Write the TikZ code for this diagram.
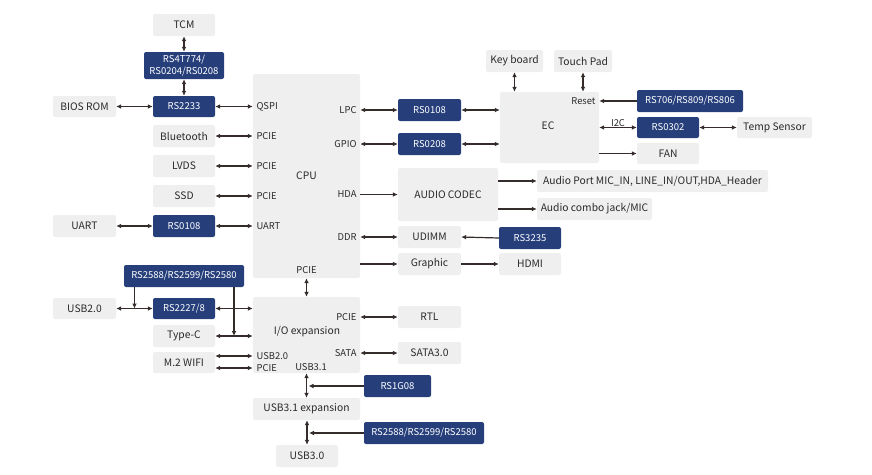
\documentclass[tikz,border=0pt]{standalone}
\usepackage{fontspec}
\setmainfont{Noto Sans CJK SC}
\usetikzlibrary{arrows.meta,calc}

\definecolor{boxgray}{HTML}{EFEFEF}
\definecolor{boxblue}{HTML}{263F7B}
\definecolor{wirecol}{HTML}{332C2A}
\definecolor{textcol}{HTML}{2A2A2A}

\tikzset{
  boxsize/.style 2 args={minimum width=#1pt, minimum height=#2pt},
  graybox/.style={fill=boxgray, rounded corners=2pt, inner sep=0pt, align=center,
    text=textcol, font=\fontsize{10.3}{12.5}\selectfont},
  bluebox/.style={fill=boxblue, rounded corners=2pt, inner sep=0pt, align=center,
    text=white, font=\fontsize{9.5}{11.5}\selectfont},
  port/.style={inner sep=1.5pt, text=textcol, font=\fontsize{9.4}{11}\selectfont},
  wire/.style={draw=wirecol, line width=1.2pt}
}

\begin{document}
\begin{tikzpicture}[x=1pt, y=-1pt, >={Latex[length=5pt,width=4.8pt]}]
        \useasboundingbox (0,0) rectangle (872,474);

        % Main blocks
        \node[graybox, boxsize={107}{204}] (cpu) at (306.5,176) {CPU};
        \node[graybox, boxsize={107}{76}] (io) at (306.5,335) {};
        \node[graybox] (iolbl) at (307,332) {I/O expansion};
        \node[graybox, boxsize={107}{22}] (usbexp) at (306.5,409) {USB3.1 expansion};
        \node[graybox, boxsize={62}{22}] (usbthree) at (307,456) {USB3.0};
        \node[graybox, boxsize={99}{71}] (ec) at (549.5,127.5) {};
        \node[graybox] (eclbl) at (548,126) {EC};

        % Left column
        \node[graybox, boxsize={62}{22}] (tcm) at (184,25) {TCM};
        \node[bluebox, boxsize={80}{27}] (rsmux) at (184,65.5) {RS4T774/\\RS0204/RS0208};
        \node[bluebox, boxsize={62}{21}] (rsbios) at (184,106.5) {RS2233};
        \node[graybox, boxsize={63}{21}] (bios) at (84.5,106.5) {BIOS ROM};
        \node[graybox, boxsize={62}{22}] (bt) at (184,136) {Bluetooth};
        \node[graybox, boxsize={62}{22}] (lvds) at (184,166) {LVDS};
        \node[graybox, boxsize={62}{22}] (ssd) at (184,196) {SSD};
        \node[graybox, boxsize={63}{22}] (uart) at (84.5,226) {UART};
        \node[bluebox, boxsize={62}{22}] (rsuart) at (184,226) {RS0108};
        \node[bluebox, boxsize={120}{22}] (rsusbsw) at (184,276) {RS2588/RS2599/RS2580};
        \node[graybox, boxsize={63}{21}] (usbtwo) at (84.5,308.5) {USB2.0};
        \node[bluebox, boxsize={62}{21}] (rsusb) at (184,308.5) {RS2227/8};
        \node[graybox, boxsize={62}{22}] (typec) at (184,336) {Type-C};
        \node[graybox, boxsize={62}{21}] (wifi) at (184,362.5) {M.2 WIFI};

        % Right of CPU
        \node[bluebox, boxsize={63}{22}] (rslpc) at (429.5,110) {RS0108};
        \node[bluebox, boxsize={63}{22}] (rsgpio) at (429.5,144) {RS0208};
        \node[graybox, boxsize={100}{53}] (codec) at (448,194.5) {AUDIO CODEC};
        \node[graybox, boxsize={231}{22}] (aport) at (652.5,181) {Audio Port MIC\_IN, LINE\_IN/OUT,HDA\_Header};
        \node[graybox, boxsize={115}{22}] (combo) at (594.5,209) {Audio combo jack/MIC};
        \node[graybox, boxsize={63}{22}] (udimm) at (429.5,237) {UDIMM};
        \node[bluebox, boxsize={62}{22}] (rsddr) at (530,238) {RS3235};
        \node[graybox, boxsize={63}{22}] (graphic) at (429.5,264) {Graphic};
        \node[graybox, boxsize={62}{22}] (hdmi) at (530,264) {HDMI};
        \node[graybox, boxsize={63}{22}] (rtl) at (429.5,317) {RTL};
        \node[graybox, boxsize={63}{22}] (sata) at (429.5,353) {SATA3.0};
        \node[bluebox, boxsize={67}{22}] (rsusbthree) at (397.5,386) {RS1G08};
        \node[bluebox, boxsize={120}{22}] (rsusbsw2) at (424,433) {RS2588/RS2599/RS2580};

        % EC side
        \node[graybox, boxsize={57}{22}] (keyb) at (514.5,61) {Key board};
        \node[graybox, boxsize={58}{22}] (touch) at (583,61) {Touch Pad};
        \node[bluebox, boxsize={106}{22}] (rsreset) at (690,101) {RS706/RS809/RS806};
        \node[bluebox, boxsize={62}{21}] (rsi2c) at (668,127.5) {RS0302};
        \node[graybox, boxsize={75}{21}] (temp) at (774.5,127.5) {Temp Sensor};
        \node[graybox, boxsize={62}{21}] (fan) at (668,153.5) {FAN};

        % Port labels
        \node[port, anchor=west, xshift=2pt] (cqspi) at (cpu.west |- rsbios) {QSPI};
        \node[port, anchor=west, xshift=2pt] (cbt) at (cpu.west |- bt) {PCIE};
        \node[port, anchor=west, xshift=2pt] (clvds) at (cpu.west |- lvds) {PCIE};
        \node[port, anchor=west, xshift=2pt] (cssd) at (cpu.west |- ssd) {PCIE};
        \node[port, anchor=west, xshift=2pt] (cuart) at (cpu.west |- rsuart) {UART};
        \node[port, anchor=east, xshift=-2pt] (clpc) at (cpu.east |- rslpc) {LPC};
        \node[port, anchor=east, xshift=-2pt] (cgpio) at (cpu.east |- rsgpio) {GPIO};
        \node[port, anchor=east, xshift=-2pt] (chda) at (cpu.east |- codec) {HDA};
        \node[port, anchor=east, xshift=-2pt] (cddr) at (cpu.east |- udimm) {DDR};
        \node[port, anchor=south, yshift=3pt] (cpcie) at (cpu.south) {PCIE};
        \node[port, anchor=east, xshift=-2pt] (iopcie) at (io.east |- rtl) {PCIE};
        \node[port, anchor=east, xshift=-2pt] (iosata) at (io.east |- sata) {SATA};
        \node[port, anchor=west, xshift=2pt] (iousb) at (253,356) {USB2.0};
        \node[port, anchor=west, xshift=2pt] (iowpcie) at (253,368) {PCIE};
        \node[port] (iousbthree) at (311,367) {USB3.1};
        \node[port, anchor=east, xshift=-2pt] (ecreset) at (ec.east |- rsreset) {Reset};

        % Join points
        \coordinate (usbjoin) at ($(usbtwo.east)!0.5!(rsusb.west)$);
        \coordinate (typejoin) at ($(typec.east)!0.5!(typec.east -| io.west)$);

        % Left connectors
        \draw[wire,<->] (tcm) -- (rsmux);
        \draw[wire,<->] (rsmux) -- (rsbios);
        \draw[wire,<->] (bios) -- (rsbios);
        \draw[wire,<->] (rsbios.east) -- (rsbios.east -| cpu.west);
        \draw[wire,<->] (bt.east) -- (bt.east -| cpu.west);
        \draw[wire,<->] (lvds.east) -- (lvds.east -| cpu.west);
        \draw[wire,<->] (ssd.east) -- (ssd.east -| cpu.west);
        \draw[wire,<->] (uart) -- (rsuart);
        \draw[wire,<->] (rsuart.east) -- (rsuart.east -| cpu.west);
        \draw[wire,<->] (usbtwo) -- (rsusb);
        \draw[wire,<->] (rsusb.east) -- (rsusb.east -| io.west);
        \draw[wire,<->] (typec.east) -- (typec.east -| io.west);
        \draw[wire,->] (usbjoin |- rsusbsw.south) -- (usbjoin);
        \draw[wire,->] (typejoin |- rsusbsw.south) -- (typejoin);
        \draw[wire,<->] (iousb.west -| wifi.east) -- (iousb.west -| io.west);
        \draw[wire,<->] (iowpcie.west -| wifi.east) -- (iowpcie.west -| io.west);

        % Vertical chain
        \draw[wire,<->] (cpu) -- (io);
        \draw[wire,<->] (io) -- (usbexp);
        \draw[wire,<->] (usbexp.south -| usbthree) -- (usbthree);
        \draw[wire,->,shorten >=2pt] (rsusbthree.west) -- (rsusbthree.west -| usbexp.north);
        \draw[wire,->,shorten >=2pt] (rsusbsw2.west) -- (rsusbsw2.west -| usbthree.north);

        % Right connectors
        \draw[wire,<->] (rslpc.west -| cpu.east) -- (rslpc.west);
        \draw[wire,<->] (rslpc.east) -- (rslpc.east -| ec.west);
        \draw[wire,<->] (rsgpio.west -| cpu.east) -- (rsgpio.west);
        \draw[wire,<->] (rsgpio.east) -- (rsgpio.east -| ec.west);
        \draw[wire,->] (codec.west -| cpu.east) -- (codec.west);
        \draw[wire,->] (codec.east |- aport) -- (aport.west);
        \draw[wire,->] (codec.east |- combo) -- (combo.west);
        \draw[wire,<->] (udimm.west -| cpu.east) -- (udimm.west);
        \draw[wire,->] (rsddr.west) -- (udimm.east);
        \draw[wire,->] (graphic.west -| cpu.east) -- (graphic.west);
        \draw[wire,->] (graphic) -- (hdmi);
        \draw[wire,<->] (rtl.west -| io.east) -- (rtl.west);
        \draw[wire,<->] (sata.west -| io.east) -- (sata.west);

        % EC connectors
        \draw[wire,<->] (keyb.south) -- (keyb.south |- ec.north);
        \draw[wire,<->] (touch.south) -- (touch.south |- ec.north);
        \draw[wire,->] (rsreset.west) -- (rsreset.west -| ec.east);
        \draw[wire,<->] (rsi2c.west -| ec.east) -- (rsi2c.west)
            node[port, midway, above, yshift=-1pt] (lbi2c) {I2C};
        \draw[wire,<->] (rsi2c) -- (temp);
        \draw[wire,->] (fan.west -| ec.east) -- (fan.west);
    \end{tikzpicture}
\end{document}
